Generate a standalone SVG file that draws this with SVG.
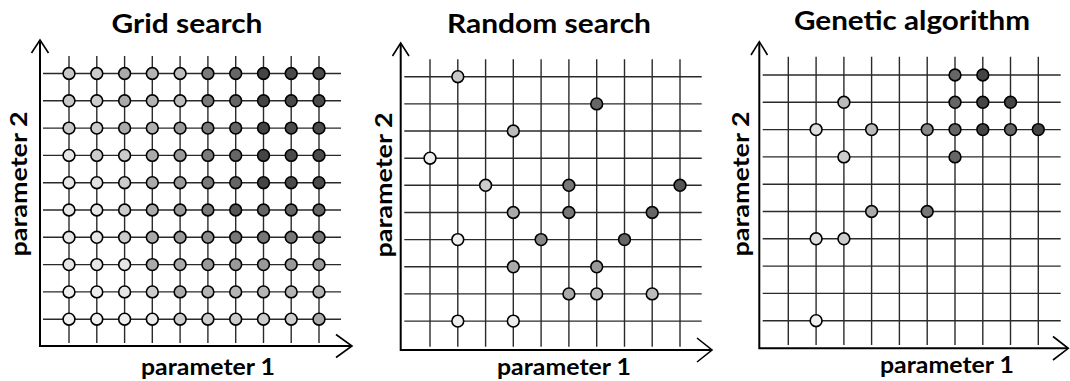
<svg xmlns="http://www.w3.org/2000/svg" width="1070" height="381" viewBox="0 0 1070 381">
  <style>
    .title { font-family: Lato, "Open Sans", "Liberation Sans", sans-serif; font-weight: bold; font-size: 26px; fill: #000; text-anchor: middle; }
    .axlabel { font-family: Lato, "Open Sans", "Liberation Sans", sans-serif; font-weight: bold; font-size: 22px; fill: #000; text-anchor: middle; }
    .grid line { stroke: #2a2a2a; stroke-width: 1.4; }
    .axis { stroke: #000; stroke-width: 2; fill: none; }
    .arrow { stroke: #000; stroke-width: 1.6; fill: none; stroke-linejoin: miter; }
    .pt { stroke: #000; stroke-width: 1.6; }
  </style>

  <rect width="1070" height="381" fill="#fff"/>

  <!-- ===== Panel 1: Grid search ===== -->
  <g id="panel-grid">
    <text class="title" x="187" y="33" textLength="151" lengthAdjust="spacingAndGlyphs">Grid search</text>
    <g class="grid">
      <line x1="69" y1="56" x2="69" y2="343"/>
      <line x1="96.8" y1="56" x2="96.8" y2="343"/>
      <line x1="124.6" y1="56" x2="124.6" y2="343"/>
      <line x1="152.3" y1="56" x2="152.3" y2="343"/>
      <line x1="180.1" y1="56" x2="180.1" y2="343"/>
      <line x1="207.9" y1="56" x2="207.9" y2="343"/>
      <line x1="235.7" y1="56" x2="235.7" y2="343"/>
      <line x1="263.5" y1="56" x2="263.5" y2="343"/>
      <line x1="291.2" y1="56" x2="291.2" y2="343"/>
      <line x1="319" y1="56" x2="319" y2="343"/>
      <line x1="43" y1="73.5" x2="341" y2="73.5"/>
      <line x1="43" y1="100.8" x2="341" y2="100.8"/>
      <line x1="43" y1="128.1" x2="341" y2="128.1"/>
      <line x1="43" y1="155.4" x2="341" y2="155.4"/>
      <line x1="43" y1="182.7" x2="341" y2="182.7"/>
      <line x1="43" y1="210" x2="341" y2="210"/>
      <line x1="43" y1="237.3" x2="341" y2="237.3"/>
      <line x1="43" y1="264.6" x2="341" y2="264.6"/>
      <line x1="43" y1="291.9" x2="341" y2="291.9"/>
      <line x1="43" y1="319.2" x2="341" y2="319.2"/>
    </g>
    <g id="axes-grid">
      <polyline class="axis" points="40,41 40,346 351,346"/>
      <polyline class="arrow" points="31.5,53 40,40 48.5,53"/>
      <polyline class="arrow" points="336,334.5 352,346 336,357.5"/>
    </g>
    <g id="points-grid">
      <!-- row 0 -->
      <circle class="pt" cx="69" cy="73.5" r="5.9" fill="#c8c8c8"/>
      <circle class="pt" cx="96.8" cy="73.5" r="5.9" fill="#cccccc"/>
      <circle class="pt" cx="124.6" cy="73.5" r="5.9" fill="#aaaaaa"/>
      <circle class="pt" cx="152.3" cy="73.5" r="5.9" fill="#b4b4b4"/>
      <circle class="pt" cx="180.1" cy="73.5" r="5.9" fill="#bdbdbd"/>
      <circle class="pt" cx="207.9" cy="73.5" r="5.9" fill="#7a7a7a"/>
      <circle class="pt" cx="235.7" cy="73.5" r="5.9" fill="#666666"/>
      <circle class="pt" cx="263.5" cy="73.5" r="5.9" fill="#444444"/>
      <circle class="pt" cx="291.2" cy="73.5" r="5.9" fill="#4a4a4a"/>
      <circle class="pt" cx="319" cy="73.5" r="5.9" fill="#4a4a4a"/>
      <!-- row 1 -->
      <circle class="pt" cx="69" cy="100.8" r="5.9" fill="#c8c8c8"/>
      <circle class="pt" cx="96.8" cy="100.8" r="5.9" fill="#cccccc"/>
      <circle class="pt" cx="124.6" cy="100.8" r="5.9" fill="#aaaaaa"/>
      <circle class="pt" cx="152.3" cy="100.8" r="5.9" fill="#b4b4b4"/>
      <circle class="pt" cx="180.1" cy="100.8" r="5.9" fill="#bbbbbb"/>
      <circle class="pt" cx="207.9" cy="100.8" r="5.9" fill="#7a7a7a"/>
      <circle class="pt" cx="235.7" cy="100.8" r="5.9" fill="#666666"/>
      <circle class="pt" cx="263.5" cy="100.8" r="5.9" fill="#444444"/>
      <circle class="pt" cx="291.2" cy="100.8" r="5.9" fill="#4a4a4a"/>
      <circle class="pt" cx="319" cy="100.8" r="5.9" fill="#4a4a4a"/>
      <!-- row 2 -->
      <circle class="pt" cx="69" cy="128.1" r="5.9" fill="#c8c8c8"/>
      <circle class="pt" cx="96.8" cy="128.1" r="5.9" fill="#cccccc"/>
      <circle class="pt" cx="124.6" cy="128.1" r="5.9" fill="#aaaaaa"/>
      <circle class="pt" cx="152.3" cy="128.1" r="5.9" fill="#b0b0b0"/>
      <circle class="pt" cx="180.1" cy="128.1" r="5.9" fill="#999999"/>
      <circle class="pt" cx="207.9" cy="128.1" r="5.9" fill="#7a7a7a"/>
      <circle class="pt" cx="235.7" cy="128.1" r="5.9" fill="#666666"/>
      <circle class="pt" cx="263.5" cy="128.1" r="5.9" fill="#444444"/>
      <circle class="pt" cx="291.2" cy="128.1" r="5.9" fill="#4a4a4a"/>
      <circle class="pt" cx="319" cy="128.1" r="5.9" fill="#4a4a4a"/>
      <!-- row 3 -->
      <circle class="pt" cx="69" cy="155.4" r="5.9" fill="#e6e6e6"/>
      <circle class="pt" cx="96.8" cy="155.4" r="5.9" fill="#cccccc"/>
      <circle class="pt" cx="124.6" cy="155.4" r="5.9" fill="#cccccc"/>
      <circle class="pt" cx="152.3" cy="155.4" r="5.9" fill="#aaaaaa"/>
      <circle class="pt" cx="180.1" cy="155.4" r="5.9" fill="#999999"/>
      <circle class="pt" cx="207.9" cy="155.4" r="5.9" fill="#7a7a7a"/>
      <circle class="pt" cx="235.7" cy="155.4" r="5.9" fill="#666666"/>
      <circle class="pt" cx="263.5" cy="155.4" r="5.9" fill="#444444"/>
      <circle class="pt" cx="291.2" cy="155.4" r="5.9" fill="#4a4a4a"/>
      <circle class="pt" cx="319" cy="155.4" r="5.9" fill="#4a4a4a"/>
      <!-- row 4 -->
      <circle class="pt" cx="69" cy="182.7" r="5.9" fill="#e6e6e6"/>
      <circle class="pt" cx="96.8" cy="182.7" r="5.9" fill="#e2e2e2"/>
      <circle class="pt" cx="124.6" cy="182.7" r="5.9" fill="#cccccc"/>
      <circle class="pt" cx="152.3" cy="182.7" r="5.9" fill="#aaaaaa"/>
      <circle class="pt" cx="180.1" cy="182.7" r="5.9" fill="#999999"/>
      <circle class="pt" cx="207.9" cy="182.7" r="5.9" fill="#7a7a7a"/>
      <circle class="pt" cx="235.7" cy="182.7" r="5.9" fill="#666666"/>
      <circle class="pt" cx="263.5" cy="182.7" r="5.9" fill="#444444"/>
      <circle class="pt" cx="291.2" cy="182.7" r="5.9" fill="#4a4a4a"/>
      <circle class="pt" cx="319" cy="182.7" r="5.9" fill="#4a4a4a"/>
      <!-- row 5 -->
      <circle class="pt" cx="69" cy="210" r="5.9" fill="#e6e6e6"/>
      <circle class="pt" cx="96.8" cy="210" r="5.9" fill="#e6e6e6"/>
      <circle class="pt" cx="124.6" cy="210" r="5.9" fill="#cccccc"/>
      <circle class="pt" cx="152.3" cy="210" r="5.9" fill="#aaaaaa"/>
      <circle class="pt" cx="180.1" cy="210" r="5.9" fill="#999999"/>
      <circle class="pt" cx="207.9" cy="210" r="5.9" fill="#7a7a7a"/>
      <circle class="pt" cx="235.7" cy="210" r="5.9" fill="#555555"/>
      <circle class="pt" cx="263.5" cy="210" r="5.9" fill="#666666"/>
      <circle class="pt" cx="291.2" cy="210" r="5.9" fill="#666666"/>
      <circle class="pt" cx="319" cy="210" r="5.9" fill="#666666"/>
      <!-- row 6 -->
      <circle class="pt" cx="69" cy="237.3" r="5.9" fill="#e6e6e6"/>
      <circle class="pt" cx="96.8" cy="237.3" r="5.9" fill="#e6e6e6"/>
      <circle class="pt" cx="124.6" cy="237.3" r="5.9" fill="#cccccc"/>
      <circle class="pt" cx="152.3" cy="237.3" r="5.9" fill="#aaaaaa"/>
      <circle class="pt" cx="180.1" cy="237.3" r="5.9" fill="#999999"/>
      <circle class="pt" cx="207.9" cy="237.3" r="5.9" fill="#8e8e8e"/>
      <circle class="pt" cx="235.7" cy="237.3" r="5.9" fill="#777777"/>
      <circle class="pt" cx="263.5" cy="237.3" r="5.9" fill="#777777"/>
      <circle class="pt" cx="291.2" cy="237.3" r="5.9" fill="#777777"/>
      <circle class="pt" cx="319" cy="237.3" r="5.9" fill="#777777"/>
      <!-- row 7 -->
      <circle class="pt" cx="69" cy="264.6" r="5.9" fill="#e6e6e6"/>
      <circle class="pt" cx="96.8" cy="264.6" r="5.9" fill="#e6e6e6"/>
      <circle class="pt" cx="124.6" cy="264.6" r="5.9" fill="#e6e6e6"/>
      <circle class="pt" cx="152.3" cy="264.6" r="5.9" fill="#aaaaaa"/>
      <circle class="pt" cx="180.1" cy="264.6" r="5.9" fill="#aaaaaa"/>
      <circle class="pt" cx="207.9" cy="264.6" r="5.9" fill="#999999"/>
      <circle class="pt" cx="235.7" cy="264.6" r="5.9" fill="#999999"/>
      <circle class="pt" cx="263.5" cy="264.6" r="5.9" fill="#999999"/>
      <circle class="pt" cx="291.2" cy="264.6" r="5.9" fill="#999999"/>
      <circle class="pt" cx="319" cy="264.6" r="5.9" fill="#999999"/>
      <!-- row 8 -->
      <circle class="pt" cx="69" cy="291.9" r="5.9" fill="#eeeeee"/>
      <circle class="pt" cx="96.8" cy="291.9" r="5.9" fill="#eeeeee"/>
      <circle class="pt" cx="124.6" cy="291.9" r="5.9" fill="#e6e6e6"/>
      <circle class="pt" cx="152.3" cy="291.9" r="5.9" fill="#cccccc"/>
      <circle class="pt" cx="180.1" cy="291.9" r="5.9" fill="#aaaaaa"/>
      <circle class="pt" cx="207.9" cy="291.9" r="5.9" fill="#b4b4b4"/>
      <circle class="pt" cx="235.7" cy="291.9" r="5.9" fill="#b4b4b4"/>
      <circle class="pt" cx="263.5" cy="291.9" r="5.9" fill="#b4b4b4"/>
      <circle class="pt" cx="291.2" cy="291.9" r="5.9" fill="#b4b4b4"/>
      <circle class="pt" cx="319" cy="291.9" r="5.9" fill="#b4b4b4"/>
      <!-- row 9 -->
      <circle class="pt" cx="69" cy="319.2" r="5.9" fill="#f0f0f0"/>
      <circle class="pt" cx="96.8" cy="319.2" r="5.9" fill="#f0f0f0"/>
      <circle class="pt" cx="124.6" cy="319.2" r="5.9" fill="#eeeeee"/>
      <circle class="pt" cx="152.3" cy="319.2" r="5.9" fill="#eaeaea"/>
      <circle class="pt" cx="180.1" cy="319.2" r="5.9" fill="#cccccc"/>
      <circle class="pt" cx="207.9" cy="319.2" r="5.9" fill="#cccccc"/>
      <circle class="pt" cx="235.7" cy="319.2" r="5.9" fill="#cccccc"/>
      <circle class="pt" cx="263.5" cy="319.2" r="5.9" fill="#cccccc"/>
      <circle class="pt" cx="291.2" cy="319.2" r="5.9" fill="#cccccc"/>
      <circle class="pt" cx="319" cy="319.2" r="5.9" fill="#aaaaaa"/>
    </g>
    <text class="axlabel" x="208" y="375" textLength="134" lengthAdjust="spacingAndGlyphs">parameter 1</text>
    <text class="axlabel" transform="translate(27,184) rotate(-90)" textLength="145" lengthAdjust="spacingAndGlyphs">parameter 2</text>
  </g>

  <!-- ===== Panel 2: Random search ===== -->
  <g id="panel-random">
    <text class="title" x="549" y="33" textLength="204" lengthAdjust="spacingAndGlyphs">Random search</text>
    <g class="grid">
      <line x1="430" y1="59.3" x2="430" y2="346.7"/>
      <line x1="457.8" y1="59.3" x2="457.8" y2="346.7"/>
      <line x1="485.6" y1="59.3" x2="485.6" y2="346.7"/>
      <line x1="513.3" y1="59.3" x2="513.3" y2="346.7"/>
      <line x1="541.1" y1="59.3" x2="541.1" y2="346.7"/>
      <line x1="568.9" y1="59.3" x2="568.9" y2="346.7"/>
      <line x1="596.7" y1="59.3" x2="596.7" y2="346.7"/>
      <line x1="624.5" y1="59.3" x2="624.5" y2="346.7"/>
      <line x1="652.2" y1="59.3" x2="652.2" y2="346.7"/>
      <line x1="680" y1="59.3" x2="680" y2="346.7"/>
      <line x1="404.3" y1="76.7" x2="701.7" y2="76.7"/>
      <line x1="404.3" y1="103.9" x2="701.7" y2="103.9"/>
      <line x1="404.3" y1="131" x2="701.7" y2="131"/>
      <line x1="404.3" y1="158.2" x2="701.7" y2="158.2"/>
      <line x1="404.3" y1="185.3" x2="701.7" y2="185.3"/>
      <line x1="404.3" y1="212.5" x2="701.7" y2="212.5"/>
      <line x1="404.3" y1="239.6" x2="701.7" y2="239.6"/>
      <line x1="404.3" y1="266.8" x2="701.7" y2="266.8"/>
      <line x1="404.3" y1="293.9" x2="701.7" y2="293.9"/>
      <line x1="404.3" y1="321.1" x2="701.7" y2="321.1"/>
    </g>
    <g id="axes-random">
      <polyline class="axis" points="400.7,44 400.7,350 711,350"/>
      <polyline class="arrow" points="392.5,56 400.7,43 409,56"/>
      <polyline class="arrow" points="697,338 712,350 697,362"/>
    </g>
    <g id="points-random">
      <circle class="pt" cx="457.8" cy="76.7" r="5.9" fill="#c8c8c8"/>
      <circle class="pt" cx="596.7" cy="103.9" r="5.9" fill="#666666"/>
      <circle class="pt" cx="513.3" cy="131" r="5.9" fill="#bbbbbb"/>
      <circle class="pt" cx="430" cy="158.2" r="5.9" fill="#eeeeee"/>
      <circle class="pt" cx="485.6" cy="185.3" r="5.9" fill="#cccccc"/>
      <circle class="pt" cx="568.9" cy="185.3" r="5.9" fill="#777777"/>
      <circle class="pt" cx="680" cy="185.3" r="5.9" fill="#555555"/>
      <circle class="pt" cx="513.3" cy="212.5" r="5.9" fill="#aaaaaa"/>
      <circle class="pt" cx="568.9" cy="212.5" r="5.9" fill="#777777"/>
      <circle class="pt" cx="652.2" cy="212.5" r="5.9" fill="#666666"/>
      <circle class="pt" cx="457.8" cy="239.6" r="5.9" fill="#eeeeee"/>
      <circle class="pt" cx="541.1" cy="239.6" r="5.9" fill="#888888"/>
      <circle class="pt" cx="624.5" cy="239.6" r="5.9" fill="#666666"/>
      <circle class="pt" cx="513.3" cy="266.8" r="5.9" fill="#aaaaaa"/>
      <circle class="pt" cx="596.7" cy="266.8" r="5.9" fill="#999999"/>
      <circle class="pt" cx="568.9" cy="293.9" r="5.9" fill="#aaaaaa"/>
      <circle class="pt" cx="596.7" cy="293.9" r="5.9" fill="#bbbbbb"/>
      <circle class="pt" cx="652.2" cy="293.9" r="5.9" fill="#bbbbbb"/>
      <circle class="pt" cx="457.8" cy="321.1" r="5.9" fill="#eeeeee"/>
      <circle class="pt" cx="513.3" cy="321.1" r="5.9" fill="#eeeeee"/>
    </g>
    <text class="axlabel" x="564" y="375" textLength="134" lengthAdjust="spacingAndGlyphs">parameter 1</text>
    <text class="axlabel" transform="translate(392,185) rotate(-90)" textLength="145" lengthAdjust="spacingAndGlyphs">parameter 2</text>
  </g>

  <!-- ===== Panel 3: Genetic algorithm ===== -->
  <g id="panel-genetic">
    <text class="title" x="912" y="30" textLength="236" lengthAdjust="spacingAndGlyphs">Genetic algorithm</text>
    <g class="grid">
      <line x1="788.3" y1="56.7" x2="788.3" y2="345"/>
      <line x1="816.1" y1="56.7" x2="816.1" y2="345"/>
      <line x1="843.9" y1="56.7" x2="843.9" y2="345"/>
      <line x1="871.6" y1="56.7" x2="871.6" y2="345"/>
      <line x1="899.4" y1="56.7" x2="899.4" y2="345"/>
      <line x1="927.2" y1="56.7" x2="927.2" y2="345"/>
      <line x1="955" y1="56.7" x2="955" y2="345"/>
      <line x1="982.8" y1="56.7" x2="982.8" y2="345"/>
      <line x1="1010.5" y1="56.7" x2="1010.5" y2="345"/>
      <line x1="1038.3" y1="56.7" x2="1038.3" y2="345"/>
      <line x1="762.7" y1="75" x2="1060.7" y2="75"/>
      <line x1="762.7" y1="102.3" x2="1060.7" y2="102.3"/>
      <line x1="762.7" y1="129.6" x2="1060.7" y2="129.6"/>
      <line x1="762.7" y1="156.9" x2="1060.7" y2="156.9"/>
      <line x1="762.7" y1="184.2" x2="1060.7" y2="184.2"/>
      <line x1="762.7" y1="211.5" x2="1060.7" y2="211.5"/>
      <line x1="762.7" y1="238.8" x2="1060.7" y2="238.8"/>
      <line x1="762.7" y1="266.1" x2="1060.7" y2="266.1"/>
      <line x1="762.7" y1="293.4" x2="1060.7" y2="293.4"/>
      <line x1="762.7" y1="320.7" x2="1060.7" y2="320.7"/>
    </g>
    <g id="axes-genetic">
      <polyline class="axis" points="759.3,42.5 759.3,348.3 1067.5,348.3"/>
      <polyline class="arrow" points="751,55 759.3,41.7 767.5,55"/>
      <polyline class="arrow" points="1053,336.5 1068.3,348.3 1053,360"/>
    </g>
    <g id="points-genetic">
      <circle class="pt" cx="955" cy="75" r="5.9" fill="#666666"/>
      <circle class="pt" cx="982.8" cy="75" r="5.9" fill="#444444"/>
      <circle class="pt" cx="843.9" cy="102.3" r="5.9" fill="#bbbbbb"/>
      <circle class="pt" cx="955" cy="102.3" r="5.9" fill="#666666"/>
      <circle class="pt" cx="982.8" cy="102.3" r="5.9" fill="#444444"/>
      <circle class="pt" cx="1010.5" cy="102.3" r="5.9" fill="#444444"/>
      <circle class="pt" cx="816.1" cy="129.6" r="5.9" fill="#dddddd"/>
      <circle class="pt" cx="871.6" cy="129.6" r="5.9" fill="#bbbbbb"/>
      <circle class="pt" cx="927.2" cy="129.6" r="5.9" fill="#888888"/>
      <circle class="pt" cx="955" cy="129.6" r="5.9" fill="#666666"/>
      <circle class="pt" cx="982.8" cy="129.6" r="5.9" fill="#444444"/>
      <circle class="pt" cx="1010.5" cy="129.6" r="5.9" fill="#666666"/>
      <circle class="pt" cx="1038.3" cy="129.6" r="5.9" fill="#444444"/>
      <circle class="pt" cx="843.9" cy="156.9" r="5.9" fill="#cccccc"/>
      <circle class="pt" cx="955" cy="156.9" r="5.9" fill="#666666"/>
      <circle class="pt" cx="871.6" cy="211.5" r="5.9" fill="#aaaaaa"/>
      <circle class="pt" cx="927.2" cy="211.5" r="5.9" fill="#777777"/>
      <circle class="pt" cx="816.1" cy="238.8" r="5.9" fill="#dddddd"/>
      <circle class="pt" cx="843.9" cy="238.8" r="5.9" fill="#cccccc"/>
      <circle class="pt" cx="816.1" cy="320.7" r="5.9" fill="#f0f0f0"/>
    </g>
    <text class="axlabel" x="947" y="373" textLength="134" lengthAdjust="spacingAndGlyphs">parameter 1</text>
    <text class="axlabel" transform="translate(749,184) rotate(-90)" textLength="145" lengthAdjust="spacingAndGlyphs">parameter 2</text>
  </g>
</svg>
